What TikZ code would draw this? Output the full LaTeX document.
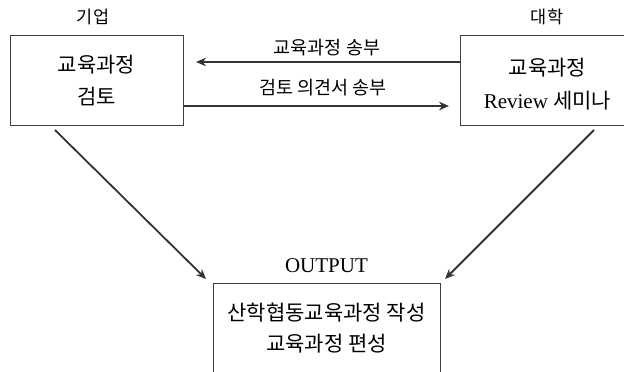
\documentclass[tikz,border=0pt]{standalone}
\usepackage{fontspec}
\setmainfont{Liberation Serif}
\newfontfamily\kr{Noto Sans CJK KR}
\usetikzlibrary{arrows.meta}
\tikzset{
  box/.style={draw=black!75, line width=1pt, align=center, font=\fontsize{21}{32}\selectfont, inner sep=0pt},
  lbl/.style={font=\fontsize{18.5}{20}\selectfont\kr, inner sep=0pt},
  toplbl/.style={font=\fontsize{17.5}{20}\selectfont\kr, inner sep=0pt},
  flow/.style={draw=black!80, line width=1.8pt, -{Stealth[length=10pt,width=8.5pt]}},
}
\begin{document}
\begin{tikzpicture}[x=1pt,y=-1pt]
\useasboundingbox (0,0) rectangle (624,372);
\clip (0,0) rectangle (624,372);
\node[box, minimum width=173pt, minimum height=90pt] (corp) at (96.5,80) {{\kr 교육과정}\\{\kr 검토}};
\node[box, minimum width=173pt, minimum height=90pt] (univ) at (546.5,80) {};
\node[font=\fontsize{21}{33}\selectfont, align=center, inner sep=0pt] (univtxt) at (547.5,84) {{\kr 교육과정}\\Review {\kr 세미나}};
\node[box, minimum width=227pt, minimum height=110pt, anchor=north] (out) at (326.5,283) {};
\node[font=\fontsize{21}{31}\selectfont, align=center] (outtxt) at (326.5,328.5) {{\kr 산학협동교육과정 작성}\\{\kr 교육과정 편성}};
\node[toplbl] (lcorp) at (93,17) {기업};
\node[toplbl] (luniv) at (547,17) {대학};
\node[font=\fontsize{21}{24}\selectfont, inner sep=0pt] (lout) at (326.5,266) {OUTPUT};
\coordinate (a1s) at (460,62);
\coordinate (a1e) at (196,62);
\coordinate (a2s) at (183,106);
\coordinate (a2e) at (449,106);
\draw[flow] (a1s) -- (a1e);
\draw[flow] (a2s) -- (a2e);
\node[lbl] (t1) at (327,48) {교육과정 송부};
\node[lbl] (t2) at (323,88) {검토 의견서 송부};
\coordinate (d1s) at (55,130);
\coordinate (d1e) at (206,279);
\coordinate (d2s) at (594,130);
\coordinate (d2e) at (445,279);
\draw[flow] (d1s) -- (d1e);
\draw[flow] (d2s) -- (d2e);
\end{tikzpicture}
\end{document}
